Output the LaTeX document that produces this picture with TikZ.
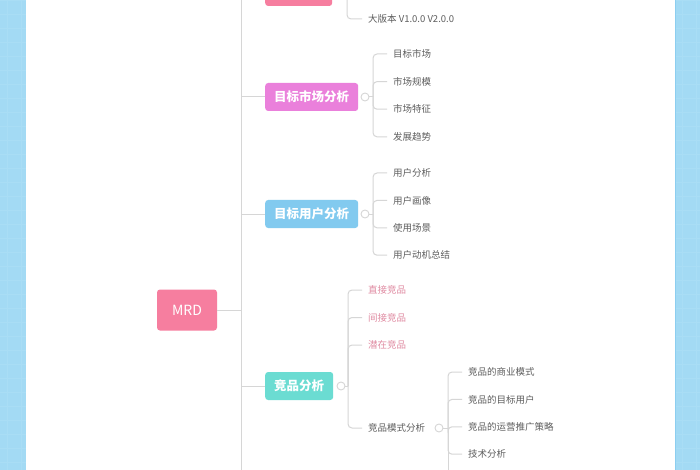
\documentclass[tikz,border=0pt]{standalone}
\usepackage{fontspec}
\setmainfont{Noto Sans CJK SC}
\definecolor{bgblue}{HTML}{A3DAF4}
\definecolor{gridblue}{HTML}{A9DDF5}
\definecolor{edgeblue}{HTML}{8CCEF0}
\definecolor{linegray}{HTML}{D6D6D6}
\definecolor{leafgray}{HTML}{5E5E5E}
\definecolor{leafpink}{HTML}{E08BA2}
\definecolor{rootpink}{HTML}{F67E9F}
\definecolor{mktpink}{HTML}{EA80DB}
\definecolor{userblue}{HTML}{82CAEF}
\definecolor{compteal}{HTML}{6BDCD2}
\tikzset{
  conn/.style={draw=linegray, line width=1pt},
  branchbox/.style={rounded corners=3pt, fill=#1, text=white, anchor=west,
    font=\fontsize{12.5}{14}\selectfont\bfseries, minimum height=28pt, inner xsep=9pt},
  leaf/.style={anchor=west, inner sep=0pt, text=leafgray, font=\fontsize{9.5}{11}\selectfont},
  fold/.style={circle, draw=linegray, fill=white, line width=0.9pt, minimum size=8pt, inner sep=0pt}
}
\begin{document}
\begin{tikzpicture}[x=1pt,y=-1pt]
		\useasboundingbox (0,0) rectangle (700,470);
		\clip (0,0) rectangle (700,470);
		\fill[white] (0,0) rectangle (700,470);
		\fill[bgblue] (0,0) rectangle (26,470);
		\fill[bgblue] (675,0) rectangle (700,470);
		\foreach \y in {0,14,...,470}
		\draw[gridblue,line width=0.4pt] (0,\y)--(26,\y) (675,\y)--(700,\y);
		\foreach \x in {7,21,682,696}
		\draw[gridblue,line width=0.4pt] (\x,0)--(\x,470);
		\draw[edgeblue,line width=1pt] (675.5,0)--(675.5,470);
		%trunk
		\coordinate (trunktop) at (241,-30);
		\coordinate (trunkbot) at (241,500);
		\draw[conn] (trunktop)--(trunkbot);
		\node[rounded corners=3pt, fill=rootpink, text=white, minimum width=60pt, minimum height=41pt,
		  font=\fontsize{14}{16}\selectfont] (mrd) at (187,310) {MRD};
		\draw[conn] (mrd.east)--(mrd.east -| trunktop);
		%branch boxes
		\node[branchbox=rootpink, minimum width=67pt] (ver) at (265,-8) {};
		\node[branchbox=mktpink] (mkt) at (265,97) {目标市场分析};
		\node[branchbox=userblue] (user) at (265,214) {目标用户分析};
		\node[branchbox=compteal] (comp) at (265,386) {竞品分析};
		\foreach \b in {ver,mkt,user,comp}
		\draw[conn] (\b.west -| trunktop)--(\b.west);
		%fold circles and hubs
		\node[fold] (verfold) at (340,-8) {};
		\node[fold] (mktfold) at (365,97) {};
		\node[fold] (userfold) at (365,214) {};
		\node[fold] (compfold) at (341,386) {};
		\coordinate (verhub) at (347,-8);
		\coordinate (mkthub) at (373,97);
		\coordinate (userhub) at (373,214);
		\coordinate (comphub) at (348,386);
		\foreach \b in {ver,mkt,user,comp}
		\draw[conn] (\b fold.east)--(\b hub);
		%leaves
		\node[leaf] (ver1) at (368,19) {大版本 V1.0.0 V2.0.0};
		\draw[conn,rounded corners=4pt] (verhub) |- ([xshift=-6pt]ver1.west);
		\foreach \t [count=\i] in {目标市场,市场规模,市场特征,发展趋势}{
		\node[leaf] (mkt\i) at (393,{54+27.6*(\i-1)}) {\t};
		\draw[conn,rounded corners=4pt] (mkthub) |- ([xshift=-6pt]mkt\i.west);}
		\foreach \t [count=\i] in {用户分析,用户画像,使用场景,用户动机总结}{
		\node[leaf] (user\i) at (393,{173+27.4*(\i-1)}) {\t};
		\draw[conn,rounded corners=4pt] (userhub) |- ([xshift=-6pt]user\i.west);}
		\foreach \t [count=\i] in {直接竞品,间接竞品,潜在竞品}{
		\node[leaf,text=leafpink] (comp\i) at (368,{290+27.5*(\i-1)}) {\t};
		\draw[conn,rounded corners=4pt] (comphub) |- ([xshift=-6pt]comp\i.west);}
		\node[leaf] (mode) at (368,428) {竞品模式分析};
		\draw[conn,rounded corners=4pt] (comphub) |- ([xshift=-6pt]mode.west);
		\node[fold] (modefold) at (439,428) {};
		\coordinate (modehub) at (448,428);
		\coordinate (modebot) at (448,490);
		\draw[conn] (modefold.east)--(modehub);
		\draw[conn] (modehub)--(modebot);
		\foreach \t [count=\i] in {竞品的商业模式,竞品的目标用户,竞品的运营推广策略,技术分析}{
		\node[leaf] (mode\i) at (468,{372+27.4*(\i-1)}) {\t};
		\draw[conn,rounded corners=4pt] (modehub) |- ([xshift=-6pt]mode\i.west);}
\end{tikzpicture}
\end{document}
